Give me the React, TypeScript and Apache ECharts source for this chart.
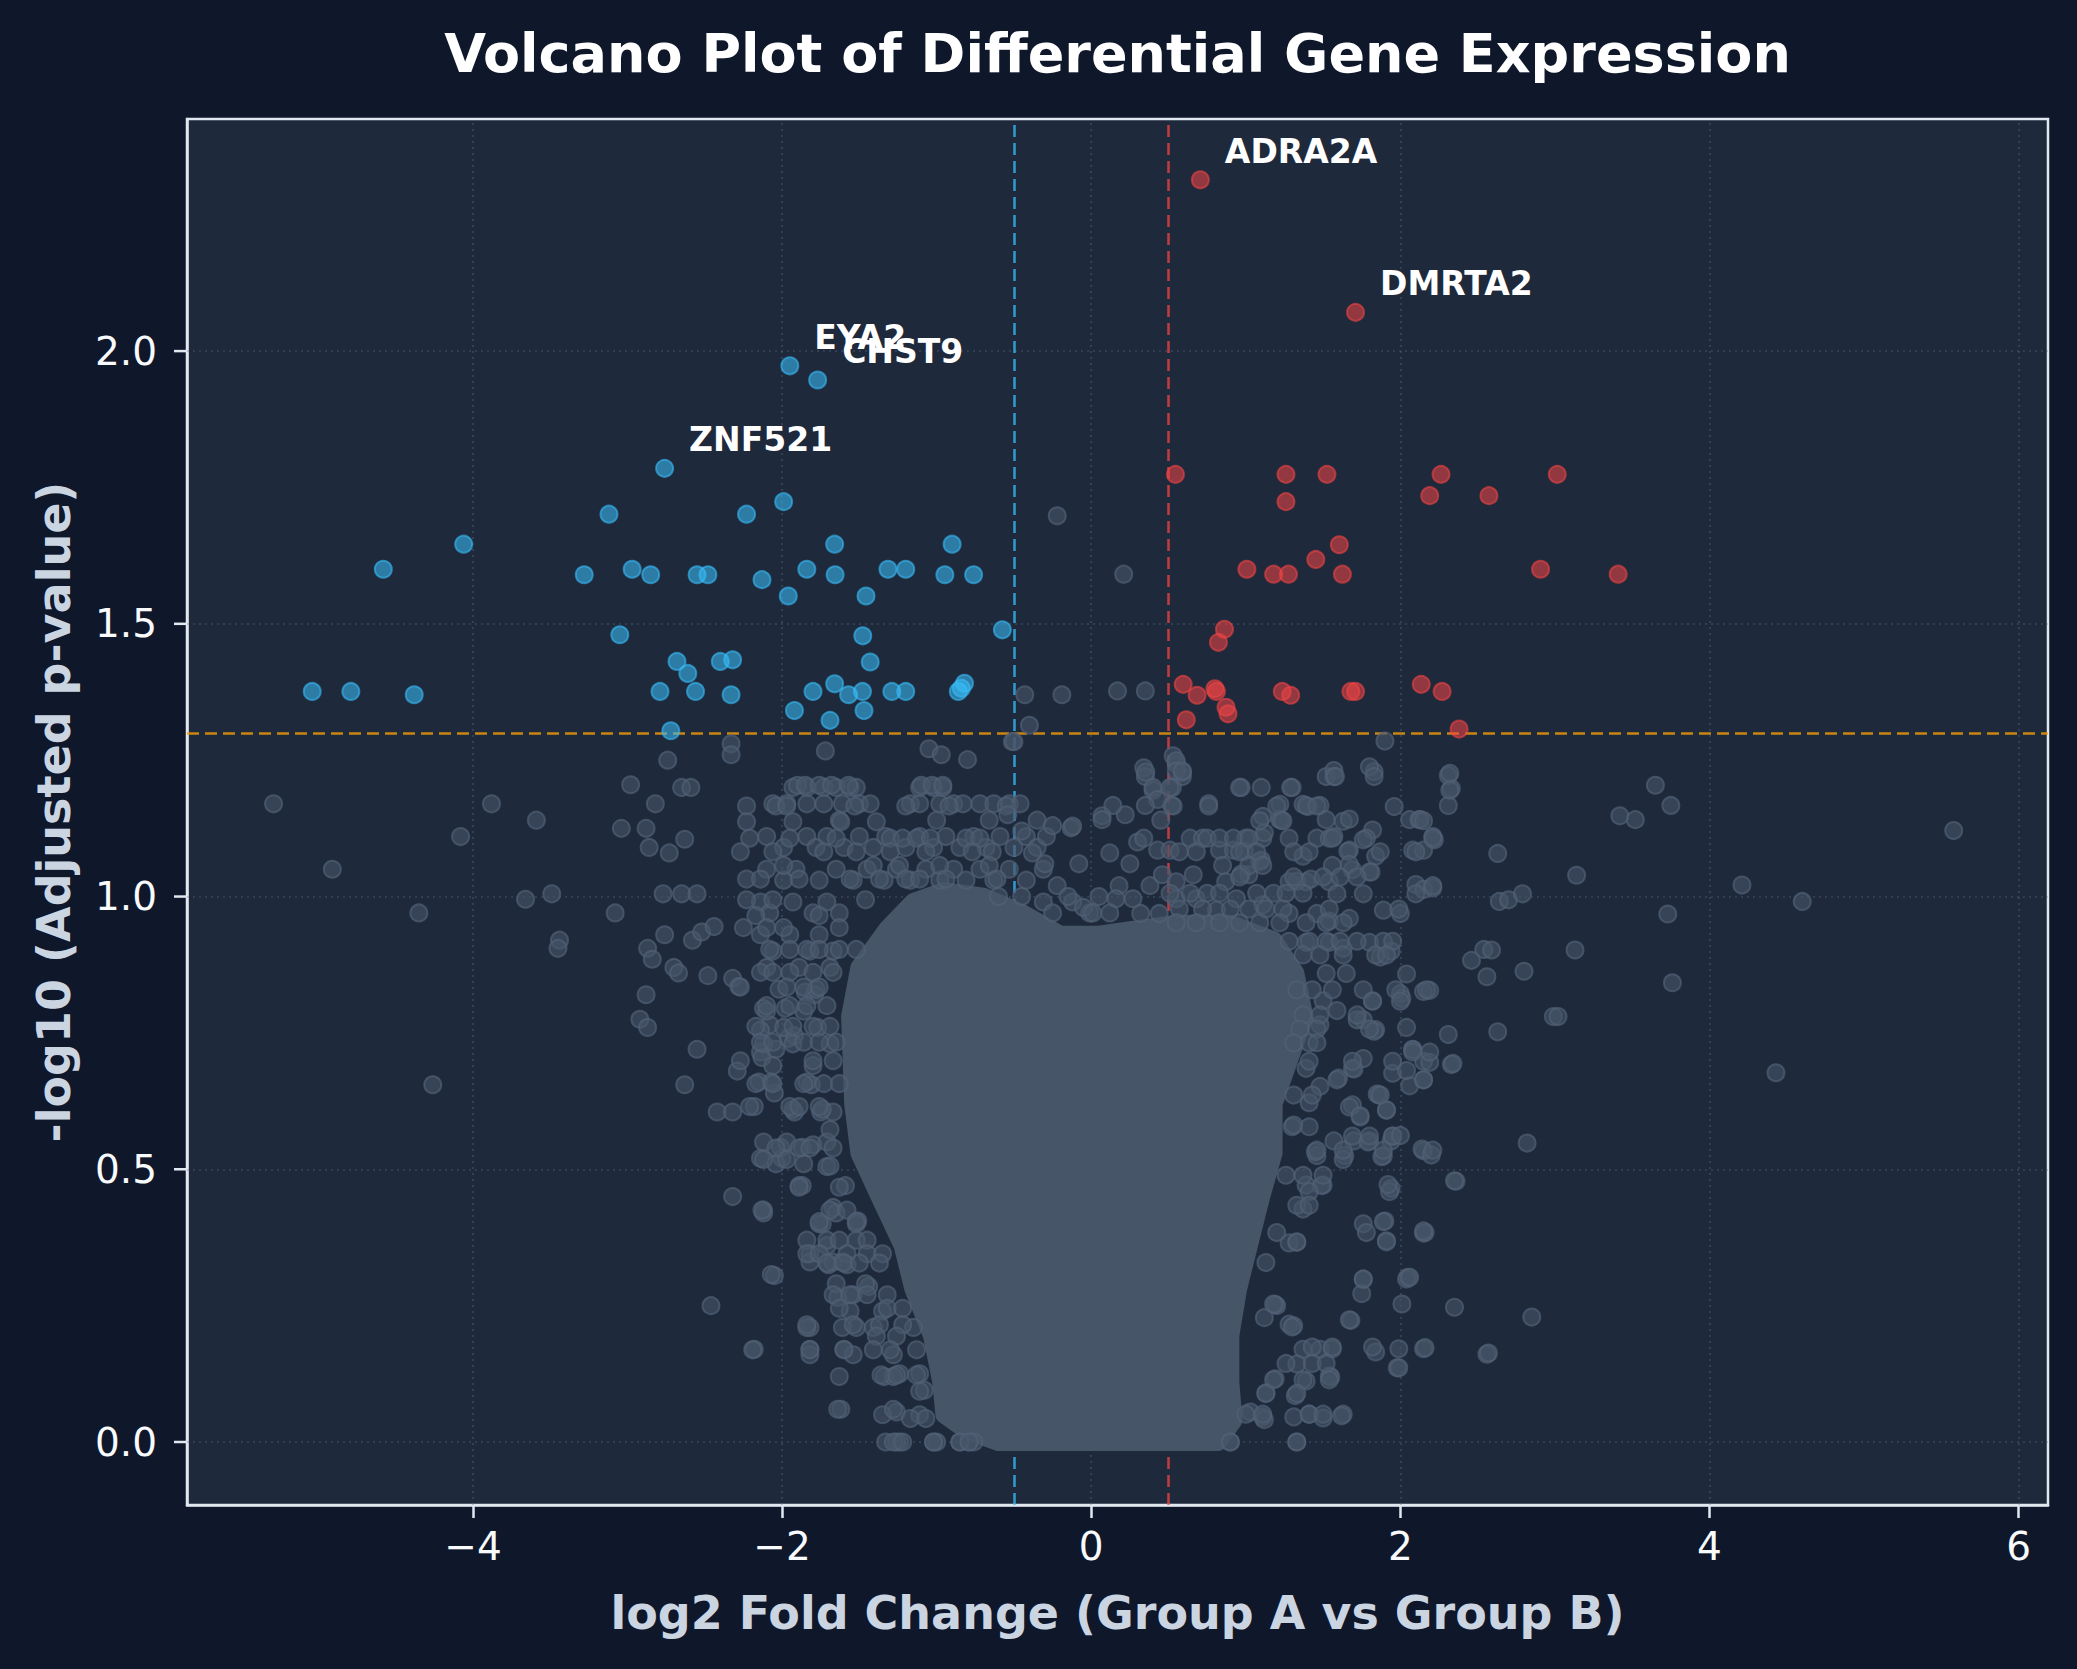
import React, { useEffect, useRef } from "react";
import * as echarts from "echarts";

// ---- Axis setup -------------------------------------------------------------
const xTicks = [-4, -2, 0, 2, 4, 6];
const yTicks = [0, 0.5, 1.0, 1.5, 2.0];
const xLimits = [-5.85, 6.19];
const yLimits = [-0.1155, 2.4255];

// thresholds: |log2FC| > 0.5 and adjusted p < 0.05
const fcCut = 0.5;
const pCut = 0.05;

// ---- Significantly down-regulated genes (log2FC, -log10 adj p) --------------
const downGenes: [number, number][] = [
  [-1.95, 1.973], [-1.77, 1.947], [-2.76, 1.785], [-1.99, 1.724], [-3.12, 1.701],
  [-2.23, 1.701], [-4.06, 1.646], [-1.66, 1.646], [-0.9, 1.646], [-4.58, 1.6],
  [-3.28, 1.59], [-2.97, 1.6], [-2.85, 1.59], [-2.55, 1.59], [-2.48, 1.59],
  [-2.13, 1.581], [-1.84, 1.6], [-1.657, 1.59], [-1.315, 1.6], [-1.2, 1.6],
  [-0.947, 1.59], [-0.761, 1.59], [-1.96, 1.551], [-1.457, 1.551], [-0.575, 1.489],
  [-3.05, 1.48], [-1.478, 1.478], [-2.68, 1.431], [-2.61, 1.409], [-2.4, 1.431],
  [-2.32, 1.434], [-1.43, 1.43], [-5.04, 1.376], [-4.79, 1.376], [-4.38, 1.37],
  [-2.79, 1.376], [-2.56, 1.376], [-2.33, 1.37], [-1.8, 1.376], [-1.66, 1.39],
  [-1.57, 1.37], [-1.48, 1.376], [-1.29, 1.376], [-1.2, 1.376], [-0.86, 1.376],
  [-0.84, 1.382], [-0.82, 1.391], [-1.92, 1.341], [-1.69, 1.323], [-1.47, 1.341],
  [-2.72, 1.304],
];

// ---- Significantly up-regulated genes ---------------------------------------
const upGenes: [number, number][] = [
  [0.706, 2.314], [1.71, 2.071], [0.545, 1.774], [1.26, 1.774], [1.525, 1.774],
  [2.263, 1.774], [3.015, 1.774], [1.26, 1.724], [2.19, 1.735], [2.573, 1.735],
  [1.605, 1.645], [1.453, 1.618], [1.007, 1.6], [1.18, 1.591], [1.276, 1.591],
  [1.625, 1.591], [2.907, 1.6], [3.409, 1.591], [0.862, 1.49], [0.823, 1.466],
  [0.595, 1.389], [0.685, 1.369], [0.8, 1.381], [0.81, 1.376], [1.236, 1.376],
  [1.29, 1.369], [1.68, 1.376], [1.71, 1.376], [2.135, 1.389], [2.27, 1.376],
  [0.872, 1.347], [0.885, 1.335], [0.615, 1.324], [2.38, 1.307],
];

// ---- Labelled genes ----------------------------------------------------------
const labelNames = ["ZNF521", "EYA2", "CHST9", "ADRA2A", "DMRTA2"];
const labelX = [-2.76, -1.95, -1.77, 0.706, 1.71];
const labelY = [1.785, 1.973, 1.947, 2.314, 2.071];

// ---- Non-significant genes: dense centre of the cloud (outline) -------------
const coreOutline: [number, number][] = [
  [-0.6, 0.0], [0.82, 0.0], [0.92, 0.04], [0.9, 0.11], [0.9, 0.195], [0.95, 0.28],
  [1.02, 0.36], [1.1, 0.45], [1.18, 0.53], [1.18, 0.62], [1.28, 0.7], [1.38, 0.78],
  [1.32, 0.86], [1.18, 0.92], [0.9, 0.95], [0.55, 0.95], [0.3, 0.94], [0.05, 0.93],
  [-0.2, 0.93], [-0.45, 0.97], [-0.7, 1.0], [-0.95, 1.01], [-1.15, 0.99], [-1.32, 0.94],
  [-1.5, 0.87], [-1.56, 0.78], [-1.54, 0.62], [-1.5, 0.53], [-1.37, 0.45], [-1.22, 0.36],
  [-1.15, 0.28], [-1.03, 0.195], [-0.97, 0.11], [-0.95, 0.05], [-0.8, 0.02],
];

// ---- Non-significant genes: individual points around the centre ------------
const nsGenes: [number, number][] = [
  // far left
  [-5.29, 1.17], [-4.91, 1.05], [-4.08, 1.11], [-4.35, 0.97], [-4.26, 0.655], [-3.88, 1.17],
  [-3.59, 1.14], [-3.66, 0.995], [-3.49, 1.005], [-3.44, 0.92], [-3.45, 0.905], [-3.08, 0.97],
  [-3.04, 1.125], [-2.98, 1.205], [-2.82, 1.17], [-2.74, 1.25], [-2.65, 1.2], [-2.59, 1.2],
  [-2.88, 1.125], [-2.86, 1.09], [-2.73, 1.08], [-2.63, 1.105], [-2.77, 1.005], [-2.65, 1.005],
  [-2.55, 1.005], [-2.87, 0.905], [-2.84, 0.885], [-2.76, 0.93], [-2.58, 0.92], [-2.52, 0.935],
  [-2.44, 0.945], [-2.7, 0.87], [-2.67, 0.86], [-2.48, 0.855], [-2.32, 0.85], [-2.28, 0.835],
  [-2.88, 0.82], [-2.92, 0.775], [-2.87, 0.76], [-2.55, 0.72], [-2.63, 0.655], [-2.29, 0.68],
  [-2.15, 0.66], [-2.05, 0.64], [-2.42, 0.605], [-2.32, 0.605], [-2.18, 0.615], [-2.14, 0.52],
  [-2.0, 0.52], [-2.32, 0.45], [-2.12, 0.425], [-1.87, 0.47], [-2.05, 0.305], [-2.46, 0.25],
  [-1.82, 0.21], [-1.52, 0.21], [-2.18, 0.17], [-1.82, 0.17], [-1.6, 0.17], [-1.62, 0.06],
  [-1.26, 0.055], [-1.24, 0.0], [-1.0, 0.0], [-0.79, 0.0], [-1.74, 0.4], [-1.67, 0.43],
  [-1.51, 0.405], [-1.82, 0.345], [-1.7, 0.325], [-1.58, 0.325], [-1.64, 0.265], [-1.54, 0.27],
  [-1.44, 0.285], [-1.34, 0.12], [-1.24, 0.125], [-1.11, 0.125], [-1.08, 0.095], [-2.12, 0.795],
  [-2.08, 0.765], [-2.14, 0.755], [-2.14, 0.715], [-2.13, 0.705], [-2.04, 0.72], [-1.96, 0.74],
  [-2.01, 0.54], [-1.87, 0.54], [-1.8, 0.545], [-1.92, 0.605], [-1.81, 0.655], [-1.75, 0.605],
  [-1.67, 0.605], [-1.71, 0.505], [-1.92, 0.745], [-1.98, 0.795], [-1.85, 0.825], [-1.79, 0.82],
  [-2.33, 1.28], [-2.33, 1.26],
  // upper left band
  [-1.72, 1.267], [-1.05, 1.271], [-0.97, 1.26], [-0.8, 1.251], [-0.51, 1.284],
  [-1.93, 1.2], [-1.84, 1.2], [-1.73, 1.2], [-1.65, 1.2], [-1.56, 1.2], [-1.52, 1.2],
  [-1.11, 1.2], [-1.02, 1.2], [-0.96, 1.2],
  [-2.06, 1.17], [-1.97, 1.17], [-1.84, 1.17], [-1.73, 1.17], [-1.61, 1.17], [-1.5, 1.17],
  [-1.43, 1.17], [-1.17, 1.17], [-1.11, 1.17], [-0.98, 1.17], [-0.89, 1.17], [-0.83, 1.17],
  [-0.72, 1.17], [-0.63, 1.17], [-0.53, 1.17], [-0.46, 1.17],
  [-1.63, 1.14], [-1.0, 1.14], [-0.66, 1.14], [-0.35, 1.14], [-0.13, 1.126],
  [-2.1, 1.11], [-1.99, 1.09], [-1.84, 1.11], [-1.78, 1.09], [-1.71, 1.11], [-1.6, 1.09],
  [-1.5, 1.11], [-1.41, 1.09], [-1.33, 1.11], [-1.2, 1.09], [-1.11, 1.11], [-1.02, 1.09],
  [-0.94, 1.11], [-0.85, 1.09], [-0.76, 1.11], [-0.68, 1.09], [-0.59, 1.11], [-0.5, 1.09],
  [-0.42, 1.11], [-0.35, 1.09], [-0.29, 1.11],
  [-2.1, 1.05], [-1.99, 1.03], [-1.91, 1.05], [-1.76, 1.03], [-1.65, 1.05], [-1.54, 1.03],
  [-1.45, 1.05], [-1.34, 1.03], [-1.26, 1.05], [-1.17, 1.03], [-1.07, 1.05], [-0.98, 1.03],
  [-0.89, 1.05], [-0.81, 1.03], [-0.72, 1.05], [-0.63, 1.03], [-0.53, 1.05], [-0.42, 1.03],
  [-0.31, 1.05],
  [-2.14, 0.99], [-2.08, 0.97], [-1.93, 0.99], [-1.8, 0.97], [-1.71, 0.99], [-1.63, 0.97],
  [-0.31, 0.99], [-0.25, 0.97], [-0.12, 0.99], [-0.01, 0.97],
  [-2.14, 0.93], [-2.06, 0.9], [-1.95, 0.93], [-1.82, 0.9], [-1.76, 0.93], [-1.67, 0.9],
  [-2.1, 0.87], [-2.02, 0.83], [-1.89, 0.87], [-1.78, 0.83], [-1.69, 0.87],
  [-2.1, 0.79], [-1.99, 0.76], [-1.86, 0.79], [-1.77, 0.76],
  [-2.12, 0.73], [-2.06, 0.69], [-1.93, 0.73], [-1.8, 0.69], [-1.69, 0.73],
  [-2.07, 0.66], [-1.93, 0.61], [-1.84, 0.66], [-1.74, 0.61],
  [-2.12, 0.55], [-2.04, 0.51], [-1.97, 0.55], [-1.86, 0.51], [-1.71, 0.55],
  [-1.89, 0.47], [-1.65, 0.42], [-1.59, 0.47], [-2.12, 0.42],
  [-1.76, 0.4], [-1.67, 0.33], [-1.52, 0.4], [-1.82, 0.33], [-1.71, 0.36], [-1.61, 0.33],
  [-1.65, 0.29], [-1.56, 0.24], [-1.46, 0.29], [-1.35, 0.24],
  [-1.84, 0.21], [-1.82, 0.16], [-1.61, 0.21], [-1.54, 0.16], [-1.41, 0.21], [-1.28, 0.16],
  [-1.15, 0.21], [-1.63, 0.12], [-1.35, 0.05], [-1.28, 0.12], [-1.11, 0.05],
  [-1.33, 0.0], [-1.26, 0.0], [-1.02, 0.0], [-0.85, 0.0], [-0.76, 0.0],
  // left edge of the centre, in detail
  [-1.9, 1.204], [-1.85, 1.204], [-1.76, 1.204], [-1.68, 1.204], [-1.57, 1.204], [-1.1, 1.204],
  [-1.03, 1.204], [-0.96, 1.204], [-2.23, 1.166], [-2.04, 1.166], [-1.97, 1.166], [-1.53, 1.166],
  [-1.2, 1.166], [-0.92, 1.166], [-0.55, 1.166], [-2.23, 1.137], [-1.93, 1.137], [-1.62, 1.137],
  [-1.39, 1.137], [-2.21, 1.107], [-1.95, 1.107], [-1.65, 1.107], [-1.3, 1.107], [-1.22, 1.107],
  [-1.13, 1.107], [-1.04, 1.107], [-0.81, 1.107], [-0.72, 1.107], [-2.27, 1.082], [-2.06, 1.082],
  [-1.73, 1.082], [-1.52, 1.082], [-1.3, 1.082], [-1.07, 1.082], [-0.77, 1.082], [-0.64, 1.082],
  [-1.99, 1.057], [-1.41, 1.057], [-1.24, 1.057], [-0.98, 1.057], [-0.66, 1.057], [-2.23, 1.032],
  [-2.14, 1.032], [-1.89, 1.032], [-1.56, 1.032], [-1.37, 1.032], [-1.2, 1.032], [-1.11, 1.032],
  [-0.94, 1.032], [-0.61, 1.032], [-2.23, 0.994], [-2.06, 0.994], [-1.46, 0.994], [-2.17, 0.965],
  [-1.76, 0.965], [-2.25, 0.943], [-2.1, 0.943], [-1.99, 0.943], [-1.63, 0.943], [-2.08, 0.903],
  [-1.95, 0.903], [-1.84, 0.903], [-1.76, 0.903], [-1.63, 0.903], [-1.52, 0.903], [-2.14, 0.861],
  [-2.06, 0.861], [-1.95, 0.861], [-1.8, 0.861], [-1.67, 0.861], [-2.27, 0.834], [-1.97, 0.834],
  [-1.86, 0.834], [-1.76, 0.834], [-2.1, 0.8], [-1.95, 0.8], [-1.84, 0.8], [-1.71, 0.8],
  [-2.17, 0.762], [-1.93, 0.762], [-1.8, 0.762], [-1.69, 0.762], [-2.14, 0.733], [-2.06, 0.733],
  [-1.86, 0.733], [-1.76, 0.733], [-1.65, 0.733], [-2.27, 0.699], [-1.8, 0.699], [-1.67, 0.699],
  [-2.17, 0.657], [-2.06, 0.657], [-1.86, 0.657], [-1.73, 0.657], [-1.63, 0.657], [-2.21, 0.615],
  [-1.95, 0.615], [-1.89, 0.615], [-1.76, 0.615], [-1.69, 0.573], [-2.04, 0.539], [-1.89, 0.539],
  [-1.82, 0.539], [-1.67, 0.539], [-2.12, 0.518], [-1.97, 0.518], [-1.69, 0.506], [-1.89, 0.467],
  [-1.63, 0.467], [-2.13, 0.425], [-1.69, 0.425], [-1.58, 0.425], [-1.76, 0.404], [-1.52, 0.404],
  [-1.84, 0.37], [-1.71, 0.37], [-1.63, 0.37], [-1.52, 0.37], [-1.45, 0.37], [-1.84, 0.345],
  [-1.76, 0.345], [-1.58, 0.345], [-1.45, 0.345], [-1.35, 0.345], [-1.71, 0.328], [-1.6, 0.328],
  [-1.5, 0.328], [-1.37, 0.328], [-2.07, 0.307], [-1.67, 0.27], [-1.56, 0.27], [-1.45, 0.27],
  [-1.32, 0.27], [-1.63, 0.245], [-1.32, 0.245], [-1.22, 0.245], [-1.84, 0.215], [-1.54, 0.215],
  [-1.37, 0.215], [-1.22, 0.215], [-1.39, 0.194], [-1.26, 0.194], [-2.19, 0.169], [-1.82, 0.169],
  [-1.6, 0.169], [-1.41, 0.169], [-1.3, 0.169], [-1.13, 0.169], [-1.36, 0.123], [-1.26, 0.123],
  [-1.13, 0.123], [-1.11, 0.093], [-1.64, 0.06], [-1.28, 0.06], [-1.17, 0.043], [-1.07, 0.043],
  [-1.28, 0.0], [-1.22, 0.0], [-1.02, 0.0], [-0.85, 0.0], [-0.79, 0.0],
  // centre, above the cloud
  [-0.22, 1.698], [0.21, 1.591], [-0.43, 1.37], [-0.19, 1.37], [0.17, 1.377], [0.35, 1.377],
  [-0.4, 1.314], [-0.5, 1.284], [-0.12, 1.129], [0.07, 1.148], [0.34, 1.236], [0.4, 1.195],
  [0.55, 1.243], [0.53, 1.258], [0.35, 1.22], [0.59, 1.22], [0.76, 1.17],
  [-0.54, 1.15], [-0.45, 1.12], [-0.38, 1.08], [-0.3, 1.06], [-0.22, 1.02], [-0.15, 1.0],
  [-0.05, 0.98], [0.05, 1.0], [0.18, 1.02], [0.25, 1.06], [0.3, 1.1], [0.12, 1.08],
  [-0.08, 1.06], [0.38, 1.02], [-0.45, 1.0], [-0.6, 1.0], [0.45, 1.14], [-0.25, 1.13],
  [0.22, 1.15],
  // right band
  [0.353, 1.228], [0.55, 1.249], [0.59, 1.228], [0.525, 1.2], [0.52, 1.167], [0.4, 1.2],
  [0.43, 1.178], [0.35, 1.167], [0.14, 1.167], [0.07, 1.141], [0.97, 1.2], [1.1, 1.2],
  [1.3, 1.2], [1.52, 1.22], [1.57, 1.231], [1.83, 1.229], [1.9, 1.285], [1.8, 1.238],
  [1.11, 1.147], [1.22, 1.169], [1.22, 1.141], [1.37, 1.169], [1.48, 1.167], [1.52, 1.141],
  [1.63, 1.138], [1.67, 1.142], [1.82, 1.122], [2.06, 1.141], [2.12, 1.141], [1.4, 1.165],
  [0.34, 1.107], [0.43, 1.085], [0.51, 1.085], [0.64, 1.107], [0.72, 1.107], [0.83, 1.085],
  [0.92, 1.085], [1.0, 1.107], [1.11, 1.107], [1.28, 1.107], [1.37, 1.074], [1.46, 1.107],
  [1.54, 1.107], [1.67, 1.085], [1.78, 1.107], [1.84, 1.074], [2.08, 1.085], [2.15, 1.085],
  [0.46, 1.04], [0.55, 1.027], [0.66, 1.04], [0.87, 1.027], [1.02, 1.04], [1.09, 1.064],
  [1.28, 1.027], [1.39, 1.027], [1.54, 1.027], [1.69, 1.049], [1.8, 1.045], [1.59, 1.005],
  [1.76, 1.005], [2.1, 1.022], [2.15, 1.013],
  [0.16, 0.996], [0.27, 0.996], [0.32, 0.969], [0.44, 0.969], [0.55, 0.996], [0.68, 0.996],
  [0.81, 0.975], [0.94, 0.996], [1.11, 0.985], [1.28, 0.969], [1.46, 0.969], [1.54, 0.955],
  [1.67, 0.96], [1.89, 0.975], [2.0, 0.969], [0.01, 0.97], [0.12, 0.97],
  [1.39, 0.916], [1.54, 0.916], [1.63, 0.905], [1.8, 0.916], [1.87, 0.889], [1.94, 0.9],
  [2.04, 0.858], [2.0, 0.822], [2.15, 0.826], [1.82, 0.809], [1.76, 0.774], [1.84, 0.756],
  [1.72, 0.774], [2.04, 0.76], [1.5, 0.809], [1.59, 0.791], [1.48, 0.765], [2.08, 0.72],
  [2.15, 0.698], [1.95, 0.676], [2.06, 0.653], [1.39, 0.685], [1.48, 0.652], [1.6, 0.667],
  [1.69, 0.685], [1.76, 0.703], [1.41, 0.622], [1.69, 0.618], [1.74, 0.596], [1.86, 0.636],
  [1.91, 0.608], [1.41, 0.578], [1.3, 0.578], [1.46, 0.525], [1.57, 0.552], [1.64, 0.525],
  [1.7, 0.552], [1.8, 0.552], [1.89, 0.525], [1.94, 0.552], [2.15, 0.534], [1.94, 0.465],
  [1.39, 0.471], [1.5, 0.471], [1.37, 0.427], [1.28, 0.365], [1.76, 0.4], [1.9, 0.405],
  [1.91, 0.369], [2.15, 0.383], [1.76, 0.298], [1.75, 0.272], [2.05, 0.302], [1.68, 0.223],
  [1.2, 0.25], [1.12, 0.228], [1.28, 0.216], [1.37, 0.17], [1.48, 0.17], [1.56, 0.171],
  [1.54, 0.121], [1.33, 0.143], [1.39, 0.112], [1.84, 0.165], [1.99, 0.171], [2.15, 0.171],
  [1.98, 0.136], [1.19, 0.116], [1.13, 0.09], [1.32, 0.085], [1.03, 0.055], [1.11, 0.046],
  [1.31, 0.046], [1.41, 0.051], [1.5, 0.044], [1.63, 0.051], [0.9, 0.0], [1.33, 0.0],
  [2.31, 1.222], [2.33, 1.198], [2.31, 1.167], [2.22, 1.104], [2.21, 1.016], [2.1, 1.005],
  [2.19, 0.828], [2.01, 0.813], [2.08, 0.719], [2.19, 0.696], [2.33, 0.692], [2.15, 0.664],
  [1.95, 0.561], [2.14, 0.537], [2.2, 0.526], [1.88, 0.523], [1.79, 0.55], [1.63, 0.518],
  [1.45, 0.532], [1.91, 0.609], [1.85, 0.638], [1.7, 0.684], [1.83, 0.753], [2.04, 0.681],
  [1.49, 0.47], [1.33, 0.366], [1.19, 0.252], [1.31, 0.213], [1.55, 0.119], [1.12, 0.041],
  [0.96, 1.2], [1.29, 1.2], [1.12, 1.117], [1.23, 1.14], [1.39, 1.167], [1.57, 1.11],
  [1.76, 1.104], [1.66, 1.083], [1.67, 1.059], [1.81, 1.045], [0.99, 1.083], [1.1, 1.067],
  [0.97, 1.041], [1.33, 1.028], [1.42, 1.032], [1.96, 1.165], [2.13, 1.141], [2.21, 1.11],
  [2.32, 1.226], [2.32, 1.195], [1.57, 1.22], [1.83, 1.22],
  // right edge of the centre, in detail
  [0.55, 1.23], [0.59, 1.23], [1.58, 1.22], [0.51, 1.2], [0.53, 1.166], [0.76, 1.166],
  [1.2, 1.166], [1.46, 1.166], [1.09, 1.139], [1.24, 1.139], [2.15, 1.139], [0.75, 1.107],
  [0.83, 1.107], [0.92, 1.107], [1.02, 1.107], [1.56, 1.107], [2.21, 1.107], [0.57, 1.082],
  [0.68, 1.082], [0.96, 1.082], [1.07, 1.082], [1.31, 1.082], [1.41, 1.082], [1.87, 1.082],
  [2.1, 1.082], [0.85, 1.057], [1.02, 1.057], [1.11, 1.057], [1.56, 1.057], [0.96, 1.036],
  [1.31, 1.036], [1.5, 1.036], [1.61, 1.036], [1.72, 1.036], [2.21, 1.02], [0.51, 1.006],
  [0.64, 1.006], [0.75, 1.006], [0.83, 1.006], [1.07, 1.006], [1.18, 1.006], [1.26, 1.006],
  [1.37, 1.006], [0.57, 0.977], [0.72, 0.977], [0.9, 0.977], [1.02, 0.977], [1.13, 0.977],
  [1.24, 0.977], [1.54, 0.977], [1.99, 0.977], [0.55, 0.952], [0.68, 0.952], [0.83, 0.952],
  [0.96, 0.952], [1.09, 0.952], [1.22, 0.952], [1.39, 0.952], [1.52, 0.952], [1.63, 0.952],
  [1.28, 0.918], [1.41, 0.918], [1.52, 0.918], [1.61, 0.918], [1.72, 0.918], [1.89, 0.918],
  [1.95, 0.918], [1.37, 0.893], [1.48, 0.893], [1.63, 0.893], [1.84, 0.893], [1.91, 0.893],
  [1.52, 0.859], [1.65, 0.859], [1.33, 0.829], [1.43, 0.829], [1.56, 0.829], [1.76, 0.829],
  [1.97, 0.829], [2.17, 0.829], [1.82, 0.808], [2.0, 0.808], [1.37, 0.783], [1.48, 0.783],
  [1.72, 0.783], [1.35, 0.757], [1.46, 0.757], [1.8, 0.757], [1.31, 0.732], [1.41, 0.732],
  [1.46, 0.732], [2.08, 0.715], [2.19, 0.715], [1.41, 0.698], [1.69, 0.698], [1.95, 0.698],
  [1.59, 0.664], [2.15, 0.664], [1.31, 0.636], [1.43, 0.636], [1.87, 0.636], [1.67, 0.614],
  [1.74, 0.598], [1.31, 0.581], [1.69, 0.561], [1.8, 0.561], [1.95, 0.561], [1.46, 0.535],
  [1.63, 0.535], [1.89, 0.535], [2.21, 0.535], [1.26, 0.489], [1.37, 0.489], [1.5, 0.489],
  [1.41, 0.459], [1.93, 0.459], [1.33, 0.434], [1.41, 0.434], [1.89, 0.404], [1.2, 0.384],
  [1.78, 0.384], [1.33, 0.367], [1.13, 0.329], [1.76, 0.299], [2.04, 0.299], [1.18, 0.253],
  [1.67, 0.224], [1.3, 0.211], [1.43, 0.174], [1.56, 0.174], [1.82, 0.174], [1.26, 0.144],
  [1.43, 0.144], [1.52, 0.144], [1.99, 0.136], [1.18, 0.114], [1.37, 0.114], [1.54, 0.114],
  [1.13, 0.089], [1.33, 0.089], [1.0, 0.051], [1.11, 0.051], [1.41, 0.051], [1.5, 0.051],
  [0.9, 0.0], [1.33, 0.0],
  // far right
  [5.58, 1.121], [3.65, 1.204], [3.42, 1.148], [3.52, 1.141], [3.75, 1.167], [2.63, 1.079],
  [3.14, 1.039], [4.21, 1.021], [4.6, 0.991], [3.73, 0.968], [2.64, 0.991], [2.7, 0.994],
  [2.79, 1.005], [2.54, 0.903], [2.59, 0.902], [2.46, 0.883], [2.56, 0.853], [2.8, 0.863],
  [3.13, 0.902], [3.76, 0.842], [2.99, 0.78], [3.02, 0.78], [2.63, 0.752], [2.31, 0.747],
  [2.34, 0.694], [4.43, 0.677], [2.82, 0.548], [2.36, 0.478], [2.16, 0.384], [2.35, 0.247],
  [2.85, 0.229], [2.56, 0.161], [1.62, 0.048], [2.57, 0.163], [2.16, 0.173], [2.01, 0.253],
  [2.06, 0.302], [2.15, 0.387], [2.35, 0.479], [2.0, 0.562], [1.92, 0.472], [1.91, 0.367],
];

const GREY = "#475569";
const SPINE = "#e2e8f0";
const TICK_LEN = 13;

function buildOption() {
  const pLine = -Math.log10(pCut);
  const fmtX = (v: number) => (v < 0 ? "\u2212" + Math.abs(v) : String(v));
  const fmtY = (v: number) => v.toFixed(1);
  const spine = { color: SPINE, width: 2.5 };
  const labelFont = { color: "#f8fafc", fontSize: 39, fontFamily: "DejaVu Sans" };
  const nameFont = { color: "#cbd5e1", fontSize: 46, fontWeight: "bold", fontFamily: "DejaVu Sans" };

  return {
    animation: false,
    backgroundColor: "#0f172a",
    textStyle: { fontFamily: "DejaVu Sans" },
    grid: {
      left: 187,
      right: 29,
      top: 119,
      bottom: 164,
      show: true,
      backgroundColor: "#1e293b",
      borderColor: SPINE,
      borderWidth: 2.5,
    },
    graphic: [
      {
        type: "text",
        x: 1117.5,
        y: 53,
        style: {
          text: "Volcano Plot of Differential Gene Expression",
          align: "center",
          verticalAlign: "middle",
          fontSize: 54,
          fontWeight: "bold",
          fontFamily: "DejaVu Sans",
          fill: "#ffffff",
        },
      },
    ],
    xAxis: {
      type: "value",
      position: "bottom",
      min: xLimits[0],
      max: xLimits[1],
      axisLine: { show: true, onZero: false, lineStyle: spine },
      splitLine: { show: false },
      axisTick: { show: true, inside: false, customValues: xTicks, length: TICK_LEN, lineStyle: spine },
      axisLabel: { ...labelFont, customValues: xTicks, margin: 22, formatter: fmtX },
      name: "log2 Fold Change (Group A vs Group B)",
      nameLocation: "middle",
      nameGap: 85,
      nameTextStyle: nameFont,
    },
    yAxis: {
      type: "value",
      position: "left",
      min: yLimits[0],
      max: yLimits[1],
      axisLine: { show: true, onZero: false, lineStyle: spine },
      splitLine: { show: false },
      axisTick: { show: false },
      axisLabel: { ...labelFont, customValues: yTicks, margin: 30, formatter: fmtY },
      name: "-log10 (Adjusted p-value)",
      nameLocation: "middle",
      nameGap: 110,
      nameTextStyle: nameFont,
    },
    series: [
      {
        // dotted grid
        type: "scatter",
        data: [],
        silent: true,
        markLine: {
          silent: true,
          z: 1,
          symbol: ["none", "none"],
          label: { show: false },
          lineStyle: { color: "rgba(100,116,139,0.4)", type: [2, 4], width: 1.6 },
          data: [
            ...xTicks.map((v) => ({ xAxis: v })),
            ...yTicks.map((v) => ({ yAxis: v })),
          ],
        },
      },
      {
        // significance thresholds
        type: "scatter",
        data: [],
        silent: true,
        markLine: {
          silent: true,
          z: 2,
          symbol: ["none", "none"],
          label: { show: false },
          lineStyle: { type: [12, 6], width: 2.6 },
          data: [
            { xAxis: -fcCut, lineStyle: { color: "rgba(56,189,248,0.75)" } },
            { xAxis: fcCut, lineStyle: { color: "rgba(239,68,68,0.75)" } },
            { yAxis: pLine, lineStyle: { color: "rgba(245,158,11,0.8)" } },
          ],
        },
      },
      {
        // outward tick marks on the left spine
        type: "custom",
        z: 10,
        silent: true,
        clip: false,
        data: yTicks.map((v) => [xLimits[0], v]),
        encode: { x: 0, y: 1 },
        renderItem: (params: any, api: any) => {
          const p = api.coord([api.value(0), api.value(1)]);
          return {
            type: "line",
            shape: { x1: p[0] - TICK_LEN, y1: p[1], x2: p[0], y2: p[1] },
            style: { stroke: SPINE, lineWidth: 2.5 },
          };
        },
      },
      {
        // dense centre of the non-significant cloud
        type: "custom",
        z: 3,
        silent: true,
        data: coreOutline,
        encode: { x: 0, y: 1 },
        renderItem: (params: any, api: any) => {
          if (params.dataIndex !== 0) return null;
          const pts = coreOutline.map((p) => api.coord(p));
          return {
            type: "polygon",
            shape: { points: pts },
            style: { fill: GREY, stroke: GREY, lineWidth: 18, lineJoin: "round" },
          };
        },
      },
      {
        name: "Not significant",
        type: "scatter",
        z: 4,
        data: nsGenes,
        symbolSize: 17,
        itemStyle: {
          color: "rgba(71,85,105,0.78)",
          borderColor: "rgba(82,97,119,0.85)",
          borderWidth: 2,
        },
      },
      {
        name: "Down",
        type: "scatter",
        z: 5,
        data: downGenes,
        symbolSize: 17,
        itemStyle: {
          color: "rgba(56,189,248,0.7)",
          borderColor: "rgba(56,189,248,0.75)",
          borderWidth: 2,
        },
      },
      {
        name: "Up",
        type: "scatter",
        z: 5,
        data: upGenes,
        symbolSize: 17,
        itemStyle: {
          color: "rgba(239,68,68,0.7)",
          borderColor: "rgba(239,68,68,0.75)",
          borderWidth: 2,
        },
      },
      {
        name: "Labels",
        type: "scatter",
        z: 6,
        silent: true,
        symbolSize: 1,
        itemStyle: { color: "rgba(0,0,0,0)", opacity: 1 },
        data: labelNames.map((n, i) => ({ name: n, value: [labelX[i], labelY[i]] })),
        label: {
          show: true,
          formatter: (p: any) => p.name,
          position: [25, -28],
          align: "left",
          verticalAlign: "middle",
          color: "#ffffff",
          opacity: 1,
          textBorderWidth: 0,
          fontSize: 33,
          fontWeight: "bold",
          fontFamily: "DejaVu Sans",
        },
      },
    ],
  };
}

export default function App() {
  const ref = useRef<HTMLDivElement>(null);
  useEffect(() => {
    if (!ref.current) return;
    const chart = echarts.init(ref.current, null, { renderer: "svg" });
    chart.setOption(buildOption() as any);
    return () => chart.dispose();
  }, []);
  return (
    <div
      ref={ref}
      style={{ position: "fixed", left: 0, top: 0, width: 2077, height: 1669 }}
    />
  );
}
